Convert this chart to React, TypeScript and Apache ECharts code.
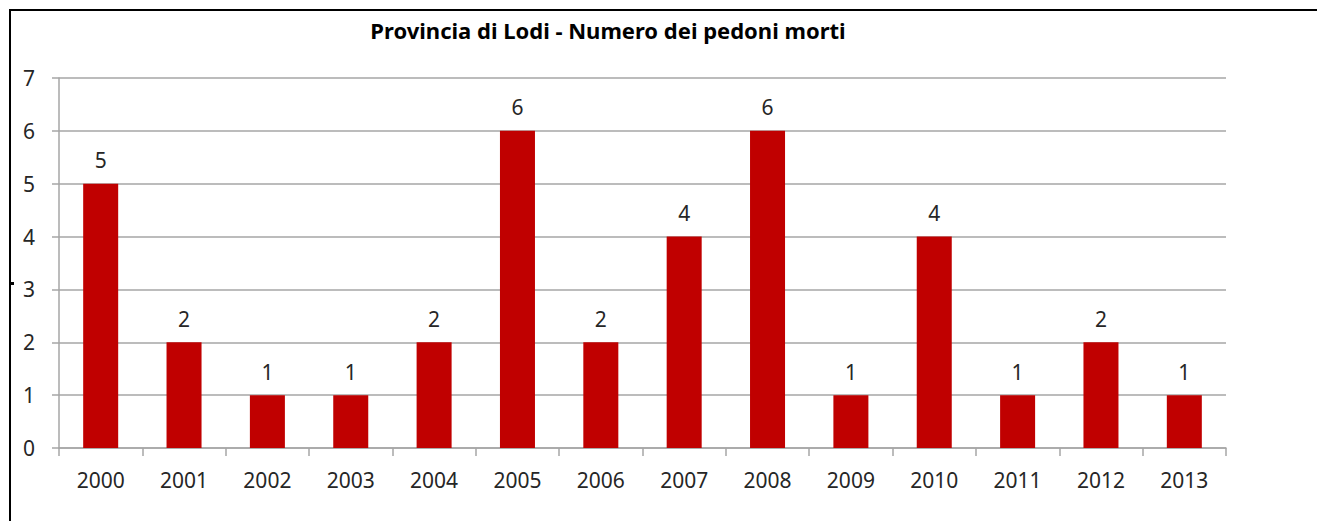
import React, { useEffect, useRef } from "react";
import * as echarts from "echarts";

const titleText = "Provincia di Lodi - Numero dei pedoni morti";
const years = ["2000", "2001", "2002", "2003", "2004", "2005", "2006", "2007", "2008", "2009", "2010", "2011", "2012", "2013"];
const deaths = [5, 2, 1, 1, 2, 6, 2, 4, 6, 1, 4, 1, 2, 1];

const FONT = "'Noto Sans', 'Open Sans', sans-serif";

export default function App() {
  const ref = useRef<HTMLDivElement>(null);
  useEffect(() => {
    document.body.style.margin = "0";
    const chart = echarts.init(ref.current!, null, { renderer: "svg" });
    chart.setOption({
      animation: false,
      backgroundColor: "#ffffff",
      title: {
        text: titleText,
        left: 603,
        top: 14,
        textAlign: "center",
        textStyle: { fontFamily: FONT, fontWeight: "bold", fontSize: 22, color: "#000000" },
      },
      grid: { left: 59, right: 91, top: 78, bottom: 73, containLabel: false },
      xAxis: {
        type: "category",
        data: years,
        boundaryGap: true,
        axisLine: { show: true, lineStyle: { color: "#a6a6a6", width: 1.5 } },
        axisTick: { show: true, alignWithLabel: false, length: 8, lineStyle: { color: "#a6a6a6", width: 1.5 } },
        axisLabel: { fontFamily: FONT, fontSize: 21, color: "#262626", margin: 21 },
      },
      yAxis: {
        type: "value",
        min: 0,
        max: 7,
        interval: 1,
        axisLine: { show: true, lineStyle: { color: "#a6a6a6", width: 1.5 } },
        axisTick: { show: true, length: 7, lineStyle: { color: "#a6a6a6", width: 1.5 } },
        splitLine: { show: true, lineStyle: { color: "#a6a6a6", width: 1.5 } },
        axisLabel: { fontFamily: FONT, fontSize: 21, color: "#262626", margin: 24 },
      },
      series: [
        {
          type: "bar",
          data: deaths,
          barCategoryGap: "58%",
          itemStyle: { color: "#c00000" },
          label: {
            show: true,
            position: "top",
            distance: 13,
            fontFamily: FONT,
            fontSize: 21,
            color: "#262626",
          },
        },
      ],
      graphic: [
        { type: "rect", shape: { x: 9, y: 9, width: 2, height: 512 }, style: { fill: "#000000" } },
        { type: "rect", shape: { x: 9, y: 9, width: 1308, height: 2 }, style: { fill: "#000000" } },
        { type: "rect", shape: { x: 9, y: 282, width: 5, height: 3 }, style: { fill: "#000000" } },
      ],
    });
    return () => chart.dispose();
  }, []);
  return <div ref={ref} style={{ position: "fixed", left: 0, top: 0, width: 1317, height: 521 }} />;
}
